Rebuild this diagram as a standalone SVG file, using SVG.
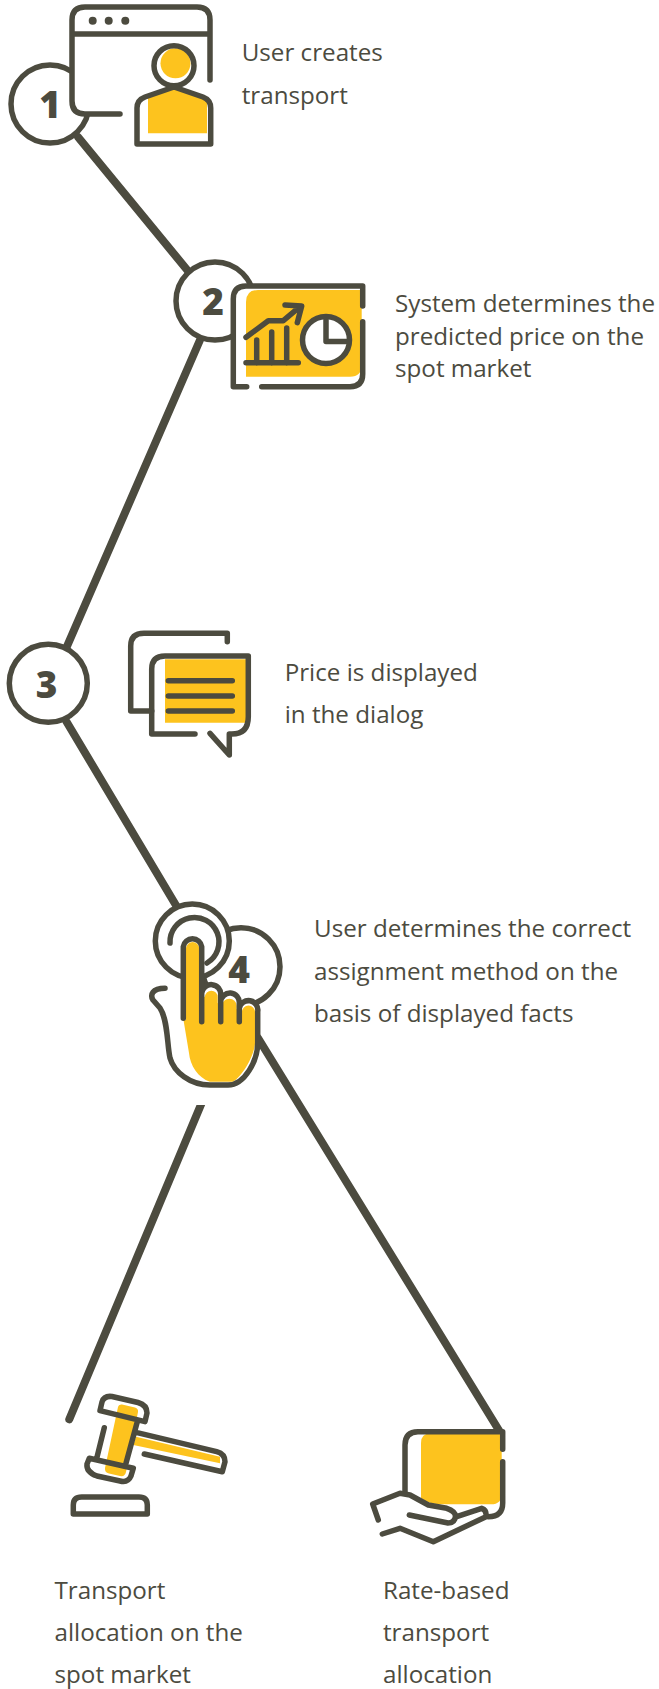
<svg xmlns="http://www.w3.org/2000/svg" width="659" height="1689" viewBox="0 0 659 1689">
<style>
.l{fill:none;stroke:#4c4b3f;stroke-width:8;stroke-linecap:round}
.s{fill:none;stroke:#4c4b3f;stroke-width:5.500;stroke-linecap:round;stroke-linejoin:round}
.w{fill:#fff}
.y{fill:#fdc31e;stroke:none}
.c{fill:#fff;stroke:#4c4b3f;stroke-width:5.500}
.d{fill:#4c4b3f}
.t{font-family:"Open Sans","Noto Sans",sans-serif;font-size:24.200px;fill:#4c4b3f}
.n{font-family:"Open Sans","Noto Sans",sans-serif;font-size:37px;font-weight:800;fill:#4c4b3f;text-anchor:middle}
</style>
<defs><clipPath id="cut"><rect x="0" y="1105" width="659" height="400"/></clipPath></defs>
<rect width="659" height="1689" fill="#fff"/>
<g id="connectors">
<line class="l" x1="78" y1="137" x2="188" y2="271"/>
<line class="l" x1="200" y1="340" x2="66.700" y2="647"/>
<line class="l" x1="66.700" y1="722" x2="177" y2="907"/>
<line class="l" x1="205" y1="1095" x2="69.300" y2="1419.300" clip-path="url(#cut)"/>
<line class="l" x1="258" y1="1038" x2="500" y2="1432"/>
</g>
<g id="node1">
<circle class="c" cx="50" cy="104" r="39"/>
<text class="n" x="50" y="118">1</text>
<path class="w" d="M72 34V101Q72 114 85 114H120V144H210V34Z"/>
<path class="s" d="M120 114H85Q72 114 72 101V20Q72 7 85 7H197Q210 7 210 20V80M72 34H210"/>
<circle class="d" cx="92.700" cy="20.700" r="4"/><circle class="d" cx="108.700" cy="20.700" r="4"/><circle class="d" cx="125.300" cy="20.700" r="4"/>
<circle class="y" cx="175.500" cy="63.300" r="15"/>
<circle class="s" cx="174" cy="65.700" r="20"/>
<path class="y" d="M148 133.300V98L174 88L207 100V133.300Z"/>
<path class="s" d="M174 87L145 97Q137 100 137 108V144H210.700V108Q210.700 100 203 97Z"/>
<text class="t" x="241.700" y="61">User creates</text>
<text class="t" x="241.700" y="104">transport</text>
</g>
<g id="node2">
<circle class="c" cx="215" cy="301" r="39"/>
<text class="n" x="213" y="315">2</text>
<rect class="w" x="233.300" y="286" width="129" height="101" rx="13"/>
<path class="y" d="M258 290H361.700V365Q361.700 376.700 350 376.700H246V302Q246 290 258 290Z"/>
<path class="s" d="M246.700 386.700H233.300V299Q233.300 286 246 286H362.700V306M362.700 321.700V374Q362.700 386.700 350 386.700H261.700"/>
<path class="s" d="M246 337.300L268.300 320.700H283.300L300 306.700M285 305L301.700 306L297.300 322.700M256.700 340V363M271.700 332V363M286.700 328V363M246 362.700H298.300"/>
<circle class="w" cx="326" cy="340" r="23.500"/>
<circle class="s" cx="326" cy="340" r="23.500"/>
<path class="s" d="M326 320V341.500H349"/>
<text class="t" x="395" y="312">System determines the</text>
<text class="t" x="395" y="344.500">predicted price on the</text>
<text class="t" x="395" y="376.500">spot market</text>
</g>
<g id="node3">
<circle class="c" cx="48.300" cy="683.300" r="39"/>
<text class="n" x="46.500" y="697.700">3</text>
<path class="s" d="M227.300 641.700V633.300H144Q130.700 633.300 130.700 646V711H151.700"/>
<path class="y" d="M165 659.300H246V722.700H165Z"/>
<path class="s" d="M195 734H151.700V669Q151.700 656 165 656H248.300V716.700Q248.300 734 231.700 734H229.300V755L210 733.300"/>
<path class="s" d="M168.300 680.700H232.300M168.300 696H232.300M168.300 711H232.300"/>
<text class="t" x="284.700" y="681">Price is displayed</text>
<text class="t" x="284.700" y="723">in the dialog</text>
</g>
<g id="node4">
<circle class="c" cx="241" cy="966.700" r="39"/>
<text class="n" x="239" y="983.300">4</text>
<circle class="c" cx="192.300" cy="941" r="37"/>
<path class="s" d="M170 943A24.500 24.500 0 1 1 207 963"/>
<path class="w" d="M183.300 1018V946.700A9.300 9.300 0 0 1 201.700 946.700V993.300A9.500 9.500 0 0 1 220.700 995V1001.700A9.300 9.300 0 0 1 239.300 1003V1008.300A9.200 9.200 0 0 1 257.700 1011.700V1043C257.700 1060 245 1085 228 1085H210C190 1085 174 1072 170 1058C167 1045 168 1020 160 1008L153 1000C150 995 152 988.300 165 988.300Z"/>
<path class="y" d="M186 948A6.700 6.700 0 0 1 199.300 948V994L205 997A6 6 0 0 1 217.700 997V1003L222 1006A6 6 0 0 1 236.700 1006V1009L242 1012A6 6 0 0 1 255 1012V1044C253 1060 240 1078 233 1081.700H210C198 1078 190 1065 189 1053L183.500 1020H186Z"/>
<path class="s" d="M183.300 1018.300V946.700A9.300 9.300 0 0 1 201.700 946.700V1021.700M201.700 993.300A9.500 9.500 0 0 1 220.700 995V1021.700M220.700 1001.700A9.300 9.300 0 0 1 239.300 1003V1021.700M239.300 1008.300A9.200 9.200 0 0 1 257.700 1011.700V1043C257.700 1060 245 1085 228 1085H210C190 1085 174 1072 170 1058C167 1045 168 1020 160 1008L153 1000C150 995 152 988.300 165 988.300"/>
<text class="t" x="314" y="936.500">User determines the correct</text>
<text class="t" x="314" y="979.500">assignment method on the</text>
<text class="t" x="314" y="1021.500">basis of displayed facts</text>
</g>
<g id="node5">
<path class="y" d="M122 1404.500L135 1407.500Q138.500 1408.500 138 1412L126 1472Q125 1477 120 1476L109 1473.500Q104.500 1472.500 105 1468L118 1407Q118.500 1404 122 1404.500ZM136 1436.700L220 1456.700V1463.300L133.300 1445Z"/>
<path class="s" d="M100 1410.700L145 1421.700L147 1413Q147 1405 138 1402.500L112 1396.500Q104 1395.500 102 1402ZM89.300 1458.300L133.300 1468.300L131 1476Q128 1483 120 1481L97 1476Q86 1472 87 1464ZM104.300 1427.700L96.700 1458.300M137.300 1421.700L126 1463.300M136 1432.300L216.700 1451.700Q225 1454 225 1461.700L222.300 1471.700L144.300 1454M73.300 1514H147.300V1505Q147.300 1497 139 1497H81.700Q73.300 1497 73.300 1505Z"/>
<text class="t" x="54.500" y="1599">Transport</text>
<text class="t" x="54.500" y="1641">allocation on the</text>
<text class="t" x="54.500" y="1683">spot market</text>
</g>
<g id="node6">
<path class="y" d="M431 1433.300H501.700V1494Q501.700 1504.300 491 1504.300H440Q428 1504 421 1498V1443Q421 1433.300 431 1433.300Z"/>
<path class="s" d="M405 1493.300V1445Q405 1431.700 418 1431.700H502.700V1449.300M502.700 1461.700V1503Q502.700 1516.700 488.300 1516.700"/>
<path class="s" d="M378.300 1520L372.700 1504L400 1493.300L410 1495L428.300 1505L446.700 1508.300Q455 1511 455.500 1516Q455 1523 448 1523L409.300 1515M456.700 1516.700L481.700 1508.300Q487 1510 486 1516.700L433.300 1541.700L400 1528.300L382.300 1534"/>
<text class="t" x="383" y="1599">Rate-based</text>
<text class="t" x="383" y="1641">transport</text>
<text class="t" x="383" y="1683">allocation</text>
</g>
</svg>
